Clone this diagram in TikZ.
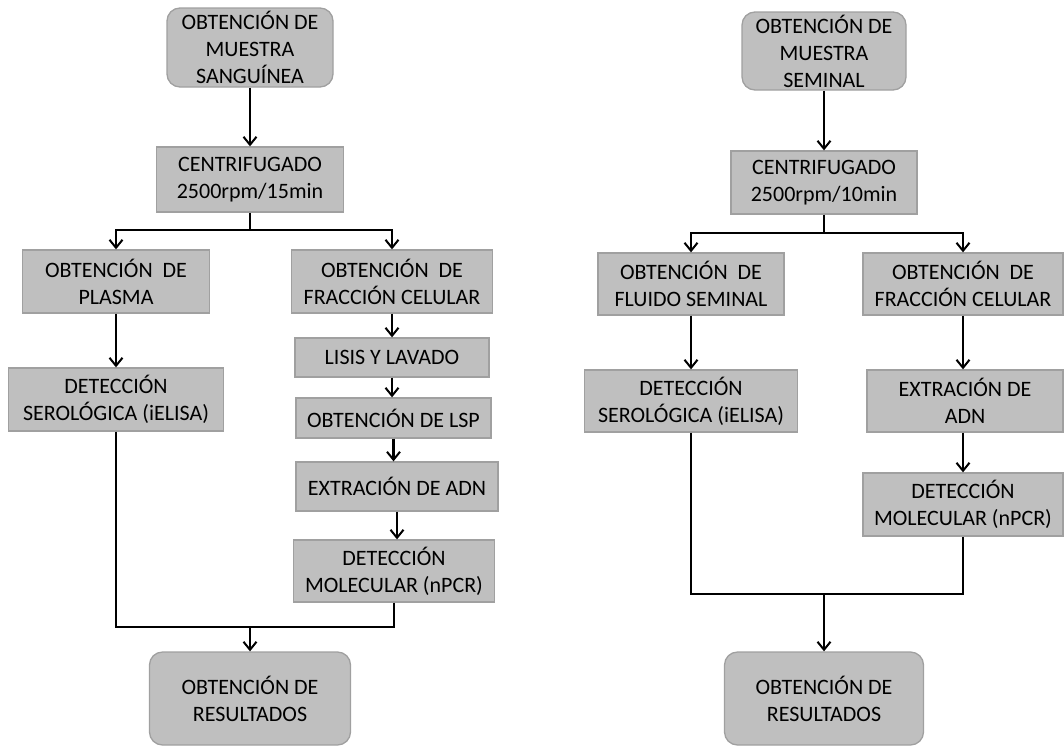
\documentclass[tikz,border=0pt]{standalone}
\usepackage{fontspec}
\setmainfont{Carlito}
\usetikzlibrary{arrows.meta}
\definecolor{boxfill}{RGB}{191,191,191}
\definecolor{boxedge}{RGB}{160,160,160}
\tikzset{
  stepbox/.style={draw=boxedge, line width=1.3pt, fill=boxfill, inner sep=0pt, align=center,
    font=\fontsize{22}{27}\selectfont},
  roundbox/.style={stepbox, rounded corners=13pt},
  arr/.style={line width=2.2pt, -{Straight Barb[length=8pt,width=13pt,line width=2pt]}},
  ln/.style={line width=2.2pt}
}
\begin{document}
\begin{tikzpicture}[x=1pt,y=-1pt]
\useasboundingbox (0,0) rectangle (1064,747);
% ---------- left panel ----------
\node[roundbox, minimum width=166pt, minimum height=79pt] (a1) at (250,47.5) {OBTENCIÓN DE\\MUESTRA\\SANGUÍNEA};
\node[stepbox, minimum width=187pt, minimum height=65pt] (a2) at (250,179.5) {CENTRIFUGADO\\2500rpm/15min};
\node[stepbox, minimum width=187pt, minimum height=63pt] (a3) at (116,281.5) {OBTENCIÓN\ \ DE\\PLASMA};
\node[stepbox, minimum width=201pt, minimum height=63pt] (a4) at (392,281.5) {OBTENCIÓN\ \ DE\\FRACCIÓN CELULAR};
\node[stepbox, minimum width=194pt, minimum height=39pt] (a5) at (392,357.5) {LISIS Y LAVADO};
\node[stepbox, minimum width=215pt, minimum height=63pt] (a6) at (116,399.5) {DETECCIÓN\\SEROLÓGICA (iELISA)};
\node[stepbox, minimum width=195pt, minimum height=40pt] (a7) at (393.5,418) {OBTENCIÓN DE LSP};
\node[stepbox, minimum width=202pt, minimum height=49pt] (a8) at (397,486.5) {EXTRACIÓN DE ADN};
\node[stepbox, minimum width=201pt, minimum height=62pt] (a9) at (394,571) {DETECCIÓN\\MOLECULAR (nPCR)};
\node[roundbox, minimum width=201pt, minimum height=93pt] (a10) at (250,698.5) {OBTENCIÓN DE\\RESULTADOS};

\coordinate (ja) at (250,230);
\coordinate (ma) at (250,627);
\draw[arr] (a1) -- (a2);
\draw[ln] (a2.south) -- (ja);
\draw[arr] (ja) -| (a3.north);
\draw[arr] (ja) -| (a4.north);
\draw[arr] (a3) -- (a6);
\draw[arr] (a4.south) -- (a5.north -| a4.south);
\draw[arr] (a5.south) -- (a5.south |- a7.north);
\draw[arr] (a7.south) -- (a7.south |- a8.north);
\draw[arr] (a8.south) -- (a8.south |- a9.north);
\draw[ln] (a6.south) |- (ma);
\draw[ln] (a9.south) |- (ma);
\draw[arr] (ma) -- (a10.north);

% ---------- right panel ----------
\node[roundbox, minimum width=164pt, minimum height=78pt] (b1) at (824,51) {OBTENCIÓN DE\\MUESTRA\\SEMINAL};
\node[stepbox, minimum width=186pt, minimum height=63pt] (b2) at (824,182.5) {CENTRIFUGADO\\2500rpm/10min};
\node[stepbox, minimum width=186pt, minimum height=62pt] (b3) at (691,284) {OBTENCIÓN\ \ DE\\FLUIDO SEMINAL};
\node[stepbox, minimum width=200pt, minimum height=62pt] (b4) at (963,284) {OBTENCIÓN\ \ DE\\FRACCIÓN CELULAR};
\node[stepbox, minimum width=213pt, minimum height=62pt] (b5) at (691,401) {DETECCIÓN\\SEROLÓGICA (iELISA)};
\node[stepbox, minimum width=196pt, minimum height=62pt] (b6) at (965,401) {EXTRACIÓN DE\\ADN};
\node[stepbox, minimum width=200pt, minimum height=63pt] (b7) at (963,504.5) {DETECCIÓN\\MOLECULAR (nPCR)};
\node[roundbox, minimum width=199pt, minimum height=93pt] (b8) at (824,698.5) {OBTENCIÓN DE\\RESULTADOS};

\coordinate (jb) at (824,233);
\coordinate (mb) at (824,594);
\draw[arr] (b1) -- (b2);
\draw[ln] (b2.south) -- (jb);
\draw[arr] (jb) -| (b3.north);
\draw[arr] (jb) -| (b4.north);
\draw[arr] (b3) -- (b5);
\draw[arr] (b4.south) -- (b4.south |- b6.north);
\draw[arr] (b6.south -| b4.south) -- (b4.south |- b7.north);
\draw[ln] (b5.south) |- (mb);
\draw[ln] (b7.south) |- (mb);
\draw[arr] (mb) -- (b8.north);
\end{tikzpicture}
\end{document}
